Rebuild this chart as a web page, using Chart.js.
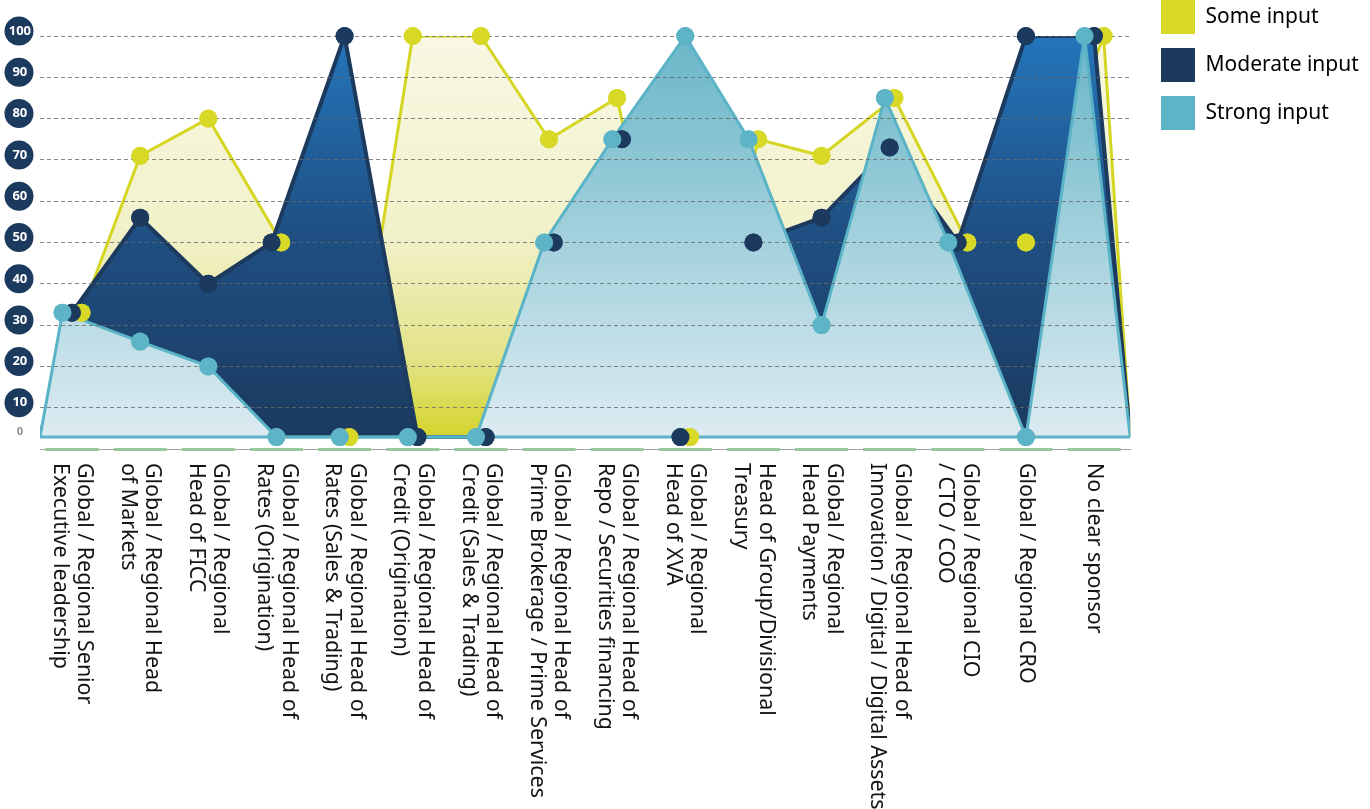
<!DOCTYPE html>
<html>
<head>
<meta charset="utf-8">
<title>Executive sponsorship by role</title>
<script src="https://cdn.jsdelivr.net/npm/chart.js@4.4.1/dist/chart.umd.min.js"></script>
<style>
  html, body { margin: 0; padding: 0; background: #ffffff; }
  #wrap { width: 1370px; height: 809px; position: relative; }
</style>
</head>
<body>
<div id="wrap"><canvas id="chart" width="1370" height="809"></canvas></div>
<script>
// ---- data -------------------------------------------------------------
// Each category label is split into the lines it is printed on.
const CATEGORIES = [
  ['Global / Regional Senior', 'Executive leadership'],
  ['Global / Regional Head', 'of Markets'],
  ['Global / Regional', 'Head of FICC'],
  ['Global / Regional Head of', 'Rates (Origination)'],
  ['Global / Regional Head of', 'Rates (Sales & Trading)'],
  ['Global / Regional Head of', 'Credit (Origination)'],
  ['Global / Regional Head of', 'Credit (Sales & Trading)'],
  ['Global / Regional Head of', 'Prime Brokerage / Prime Services'],
  ['Global / Regional Head of', 'Repo / Securities financing'],
  ['Global / Regional', 'Head of XVA'],
  ['Head of Group/Divisional', 'Treasury'],
  ['Global / Regional', 'Head Payments'],
  ['Global / Regional Head of', 'Innovation / Digital / Digital Assets'],
  ['Global / Regional CIO', '/ CTO / COO'],
  ['Global / Regional CRO'],
  ['No clear sponsor']
];
const SOME_INPUT     = [33, 71, 80, 50,   0, 100, 100, 75, 85,   0, 75, 71, 85, 50,  50, 100];
const MODERATE_INPUT = [33, 56, 40, 50, 100,   0,   0, 50, 75,   0, 50, 56, 73, 50, 100, 100];
const STRONG_INPUT   = [33, 26, 20,  0,   0,   0,   0, 50, 75, 100, 75, 30, 85, 50,   0, 100];
const SERIES_NAMES   = ['Some input', 'Moderate input', 'Strong input'];
const Y_MIN = 0, Y_MAX = 100, Y_STEP = 10;

// ---- styling / geometry -----------------------------------------------
const FONT = 'Noto Sans';
const STYLE = {
  some:     { dot: '#d8d826', line: '#d5d523', width: 3,
              fill: [[0, '#f8f8e4'], [0.5, '#f1f1c9'], [0.8, '#e3e38a'], [1, '#d4d42c']] },
  moderate: { dot: '#1b3a5e', line: '#1b3a5e', width: 4,
              fill: [[0, '#2475bb'], [0.5, '#1f4f82'], [1, '#1b3a5f']] },
  strong:   { dot: '#5db4c6', line: '#5ab3c6', width: 3,
              fill: [[0, '#69b6c8'], [1, '#dcebf1']] }
};
const X_MIN = -0.47;                       // area outlines close half a step outside
const X_MAX = CATEGORIES.length - 0.47;
const DODGE_STEP = 0.14;                   // side-by-side spacing of equal-valued dots
const ZERO_BAND = 0.71;                    // the 0-10 band is drawn compressed
const LABEL_SHIFT = -5;                    // y labels sit a little above their grid line
const LEGEND_BOX_X = 1161;
const CATEGORY_FONT_SIZE = 21.4;

// Linear scale whose lowest band (0-10) is squeezed, leaving a gap under the zero line.
class ZeroBandScale extends Chart.LinearScale {
  static id = 'zeroBand';
  static defaults = {};
  getPixelForValue(value) {
    if (value === null || value === undefined || Number.isNaN(value)) return NaN;
    const v = value >= 10 ? value : 10 - (10 - value) * ZERO_BAND;
    return super.getPixelForValue(v);
  }
  getValueForPixel(pixel) {
    const v = super.getValueForPixel(pixel);
    return v >= 10 ? v : 10 - (10 - v) / ZERO_BAND;
  }
}
Chart.register(ZeroBandScale);

// Dots with equal values in one category are placed side by side.
const DODGE_ORDER = [STRONG_INPUT, MODERATE_INPUT, SOME_INPUT];
function dodgedX(series, i) {
  const group = DODGE_ORDER.filter(s => s[i] === series[i]);
  return i + (group.indexOf(series) - (group.length - 1) / 2) * DODGE_STEP;
}
const seriesPoints = series => series.map((v, i) => ({ x: dodgedX(series, i), y: v }));
const areaOutline = series => [{ x: X_MIN, y: Y_MIN }, ...seriesPoints(series), { x: X_MAX, y: Y_MIN }];

function verticalGradient(stops) {
  return (context) => {
    const chart = context.chart;
    const y = chart.scales.y;
    if (!chart.chartArea || !y) return stops[stops.length - 1][1];
    const g = chart.ctx.createLinearGradient(0, y.getPixelForValue(Y_MAX), 0, y.getPixelForValue(Y_MIN));
    stops.forEach(([o, c]) => g.addColorStop(o, c));
    return g;
  };
}

const SERIES = [
  { name: SERIES_NAMES[0], values: SOME_INPUT,     style: STYLE.some },
  { name: SERIES_NAMES[1], values: MODERATE_INPUT, style: STYLE.moderate },
  { name: SERIES_NAMES[2], values: STRONG_INPUT,   style: STYLE.strong }
];

// Areas are stacked visually: "Some" at the back, "Strong" in front.
const areaSets = SERIES.map((s, k) => ({
  label: s.name,
  data: areaOutline(s.values),
  order: 10 - k,
  fill: 'origin',
  backgroundColor: verticalGradient(s.style.fill),
  borderColor: s.style.line,
  borderWidth: s.style.width,
  pointRadius: 0,
  pointHoverRadius: 0,
  tension: 0
}));
const baselineSet = {
  label: 'baseline',
  data: [{ x: X_MIN, y: Y_MIN }, { x: X_MAX, y: Y_MIN }],
  order: 7,
  fill: false,
  borderColor: STYLE.strong.line,
  borderWidth: 3,
  pointRadius: 0,
  pointHoverRadius: 0
};
const dotSets = SERIES.map((s, k) => ({
  label: s.name + ' (points)',
  data: seriesPoints(s.values),
  order: 6 - k,
  showLine: false,
  pointRadius: 9,
  pointHoverRadius: 9,
  pointBorderWidth: 0,
  pointBackgroundColor: s.style.dot,
  clip: false,
  isDotLayer: true
}));

// Axis decoration: round y-label badges, green category marks, rotated category names.
const decorations = {
  id: 'decorations',
  afterLayout(chart) {
    const lg = chart.legend;
    const pad = lg.options.labels.padding;
    lg.left = LEGEND_BOX_X - pad;
    lg.right = chart.width;
    lg.top = -pad;
    lg.bottom = chart.height;
  },
  beforeDraw(chart) {
    const y = chart.scales.y, ctx = chart.ctx;
    const cx = (y.left + y.right) / 2 - 1;
    ctx.save();
    ctx.fillStyle = STYLE.moderate.dot;
    y.ticks.forEach((t, idx) => {
      if (t.value === Y_MIN) return;
      ctx.beginPath();
      ctx.arc(cx, y.getPixelForTick(idx) + LABEL_SHIFT, 14.5, 0, Math.PI * 2);
      ctx.fill();
    });
    ctx.restore();
  },
  afterDraw(chart) {
    const ctx = chart.ctx, x = chart.scales.x;
    // dots go above the dashed grid
    chart.data.datasets.forEach((ds, i) => {
      if (ds.isDotLayer) chart.getDatasetMeta(i).controller.draw();
    });
    ctx.save();
    ctx.fillStyle = '#98c89e';
    CATEGORIES.forEach((_, i) => {
      const px = x.getPixelForValue(i);
      ctx.fillRect(px - 26.5, x.top - 1, 53, 3);
    });
    ctx.fillStyle = '#141414';
    ctx.font = `${CATEGORY_FONT_SIZE}px '${FONT}'`;
    ctx.textAlign = 'left';
    ctx.textBaseline = 'middle';
    const lineH = 24.5;
    CATEGORIES.forEach((lines, i) => {
      const px = x.getPixelForValue(i);
      ctx.save();
      ctx.translate(px, x.top + 14);
      ctx.rotate(Math.PI / 2);
      lines.forEach((ln, j) => ctx.fillText(ln, 0, (j - (lines.length - 1) / 2) * lineH));
      ctx.restore();
    });
    ctx.restore();
  }
};

new Chart(document.getElementById('chart'), {
  type: 'line',
  data: { datasets: [...areaSets, baselineSet, ...dotSets] },
  options: {
    responsive: false,
    animation: false,
    devicePixelRatio: 1,
    events: [],
    layout: { padding: { top: 36, right: 18, bottom: 0, left: 0 } },
    scales: {
      x: {
        type: 'linear',
        min: X_MIN,
        max: X_MAX,
        ticks: { display: false },
        grid: { display: false },
        border: { display: true, color: '#a0a0a0', width: 1, dash: [4, 3] },
        afterFit(scale) { scale.height = 360; }
      },
      y: {
        type: 'zeroBand',
        min: Y_MIN,
        max: Y_MAX,
        ticks: {
          stepSize: Y_STEP,
          padding: 9,
          crossAlign: 'center',
          labelOffset: LABEL_SHIFT,
          color: c => (c.tick && c.tick.value === Y_MIN ? '#8a8a8a' : '#ffffff'),
          font: c => ({ family: FONT, weight: 'bold', size: c.tick && c.tick.value === Y_MIN ? 11 : 13 })
        },
        grid: {
          color: c => (c.tick && c.tick.value === Y_MIN ? 'rgba(0,0,0,0)' : 'rgba(105,105,105,0.8)'),
          lineWidth: 1,
          drawTicks: false,
          z: 1
        },
        border: { display: false, dash: [4, 3] },
        afterFit(scale) { scale.width = 40; }
      }
    },
    plugins: {
      tooltip: { enabled: false },
      legend: {
        position: 'right',
        align: 'start',
        labels: {
          boxWidth: 34,
          boxHeight: 34,
          padding: 14,
          color: '#1e2430',
          font: { family: FONT, size: 21 },
          generateLabels: () => SERIES.map((s, k) => ({
            text: s.name,
            fillStyle: s.style.dot,
            strokeStyle: s.style.dot,
            lineWidth: 0,
            hidden: false,
            datasetIndex: k
          }))
        }
      }
    }
  },
  plugins: [decorations]
});
</script>
</body>
</html>
